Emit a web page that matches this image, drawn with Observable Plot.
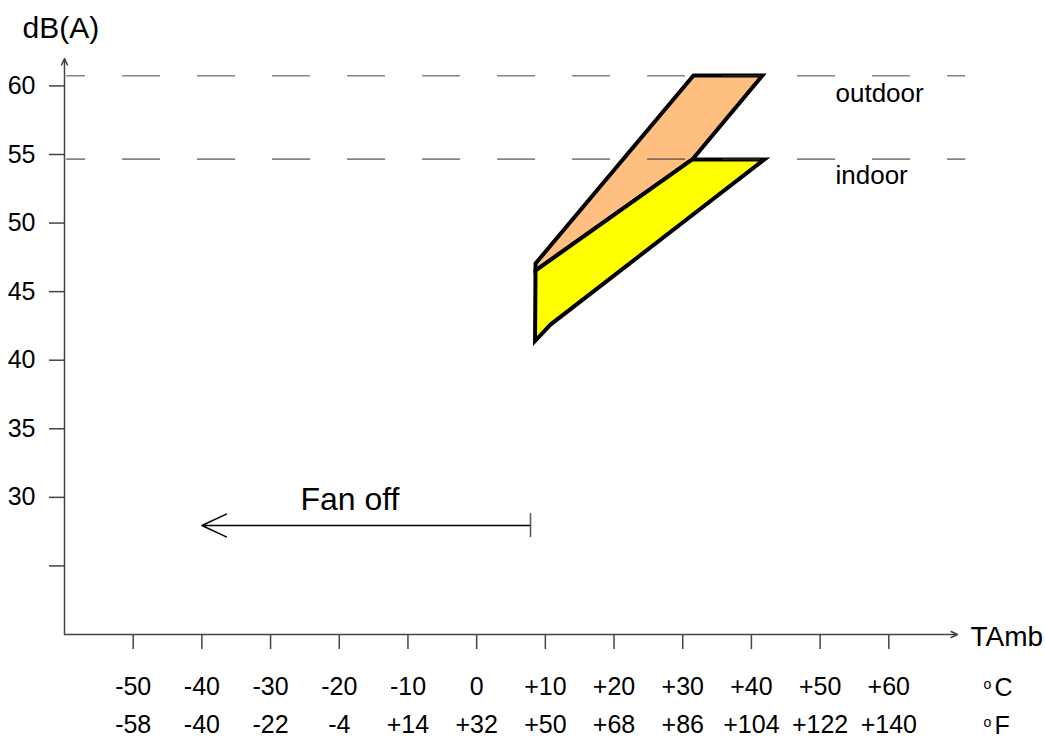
<!DOCTYPE html>
<html>
<head>
<meta charset="utf-8">
<script src="https://cdn.jsdelivr.net/npm/d3@7"></script>
<script src="https://cdn.jsdelivr.net/npm/@observablehq/plot@0.6"></script>
<style>
  html, body { margin: 0; padding: 0; background: #fff; }
</style>
</head>
<body>
<div id="chart"></div>
<script>
// ---- data ----
const cTicks = [-50, -40, -30, -20, -10, 0, 10, 20, 30, 40, 50, 60];
const cLabels = ["-50", "-40", "-30", "-20", "-10", "0", "+10", "+20", "+30", "+40", "+50", "+60"];
const fLabels = ["-58", "-40", "-22", "-4", "+14", "+32", "+50", "+68", "+86", "+104", "+122", "+140"];
const yTicks = [25, 30, 35, 40, 45, 50, 55, 60];
const yLabels = ["", "30", "35", "40", "45", "50", "55", "60"];

const outdoorBand = [
  {t: 8.57, db: 47.05},
  {t: 31.57, db: 60.76},
  {t: 41.6, db: 60.76},
  {t: 31.4, db: 54.64},
  {t: 8.57, db: 46.54}
];
const indoorBand = [
  {t: 8.57, db: 46.54},
  {t: 31.4, db: 54.64},
  {t: 41.9, db: 54.64},
  {t: 10.75, db: 42.6},
  {t: 8.5, db: 41.4}
];
const limitLevels = [60.74, 54.66];
const limitSpan = {x1: -59.7, x2: 71.2};
const seriesLabels = [
  {label: "outdoor", t: 52.24, db: 58.81},
  {label: "indoor", t: 52.24, db: 52.86}
];
const fanOff = {label: "Fan off", tFrom: 7.84, tTo: -40, db: 27.95, textT: -18.44, textDb: 29.11, tickLo: 27.07, tickHi: 28.82};
const axisLines = [
  {x1: -60, y1: 20, x2: 70, y2: 20},
  {x1: -60, y1: 20, x2: -60, y2: 62}
];
const xTitle = "TAmb";
const yTitle = "dB(A)";
const units = ["C", "F"];

// ---- chart ----
const font = "'Liberation Sans', Arial, sans-serif";
const cMap = new Map(cTicks.map((d, i) => [d, cLabels[i]]));
const fMap = new Map(cTicks.map((d, i) => [d, fLabels[i]]));
const yMap = new Map(yTicks.map((d, i) => [d, yLabels[i]]));

const chart = Plot.plot({
  width: 1045,
  height: 740,
  marginLeft: 64,
  marginRight: 88,
  marginTop: 58,
  marginBottom: 106,
  x: {domain: [-60, 70]},
  y: {domain: [20, 62]},
  style: {fontFamily: font, fontSize: "25px", background: "white", color: "black"},
  marks: [
    // polygons
    Plot.line(outdoorBand, {x: "t", y: "db", curve: "linear-closed", fill: "#FFBF80", stroke: "black", strokeWidth: 4, strokeLinejoin: "miter", strokeMiterlimit: 10}),
    Plot.line(indoorBand, {x: "t", y: "db", curve: "linear-closed", fill: "#FFFF00", stroke: "black", strokeWidth: 4, strokeLinejoin: "miter", strokeMiterlimit: 10}),
    // dashed limit lines
    Plot.ruleY(limitLevels, {x1: limitSpan.x1, x2: limitSpan.x2, stroke: "#333", strokeOpacity: 0.6, strokeWidth: 1.6, strokeDasharray: "38,37", strokeDashoffset: 19}),
    // series labels
    Plot.text(seriesLabels, {x: "t", y: "db", text: "label", textAnchor: "start", lineAnchor: "bottom", fontSize: 26, fill: "black"}),
    // fan off
    Plot.arrow([fanOff], {x1: "tFrom", x2: "tTo", y1: "db", y2: "db", headLength: 27, headAngle: 50, stroke: "black", strokeWidth: 1.5}),
    Plot.ruleX([fanOff], {x: "tFrom", y1: "tickLo", y2: "tickHi", stroke: "#555", strokeWidth: 1.5}),
    Plot.text([fanOff], {x: "textT", y: "textDb", text: "label", textAnchor: "middle", lineAnchor: "bottom", fontSize: 32, fill: "black"}),
    // axes
    Plot.axisY(yTicks, {tickSize: 15, tickPadding: 14, tickFormat: d => yMap.get(d), stroke: "#444", strokeWidth: 1.5, fontSize: 25, label: null}),
    Plot.axisX(cTicks, {tickSize: 15, tickPadding: 28, tickFormat: d => cMap.get(d), stroke: "#444", strokeWidth: 1.5, fontSize: 25, label: null}),
    Plot.axisX(cTicks, {tickSize: 0, tickPadding: 81, tickFormat: d => fMap.get(d), fontSize: 25, label: null}),
    Plot.arrow(axisLines, {x1: "x1", y1: "y1", x2: "x2", y2: "y2", headLength: 7, headAngle: 50, stroke: "#444", strokeWidth: 1.5}),
    // titles
    Plot.text([yTitle], {frameAnchor: "top-left", dx: -42, dy: -21, textAnchor: "start", lineAnchor: "bottom", fontSize: 30, fill: "black"}),
    Plot.text([xTitle], {frameAnchor: "bottom-right", dx: 13, dy: 11, textAnchor: "start", lineAnchor: "bottom", fontSize: 28, fill: "black"}),
    // units (small raised "o" + letter)
    Plot.text([units[0]], {frameAnchor: "bottom-right", dx: 26, dy: 54, text: () => "o", textAnchor: "start", lineAnchor: "bottom", fontSize: 14, fill: "black"}),
    Plot.text([units[1]], {frameAnchor: "bottom-right", dx: 26, dy: 92, text: () => "o", textAnchor: "start", lineAnchor: "bottom", fontSize: 14, fill: "black"}),
    Plot.text([units[0]], {frameAnchor: "bottom-right", dx: 37, dy: 61, textAnchor: "start", lineAnchor: "bottom", fontSize: 25, fill: "black"}),
    Plot.text([units[1]], {frameAnchor: "bottom-right", dx: 37, dy: 99, textAnchor: "start", lineAnchor: "bottom", fontSize: 25, fill: "black"})
  ]
});
document.getElementById("chart").appendChild(chart);
</script>
</body>
</html>
